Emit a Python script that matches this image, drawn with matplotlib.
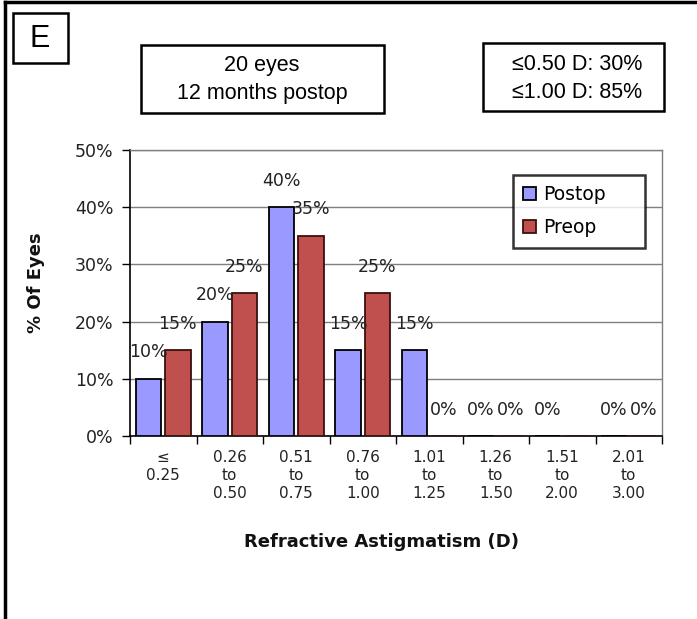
import numpy as np
import matplotlib
matplotlib.use("Agg")
import matplotlib.pyplot as plt
from matplotlib.patches import Rectangle
from matplotlib.lines import Line2D

# data
categories = ["\u2264\n0.25", "0.26\nto\n0.50", "0.51\nto\n0.75", "0.76\nto\n1.00",
              "1.01\nto\n1.25", "1.26\nto\n1.50", "1.51\nto\n2.00", "2.01\nto\n3.00"]
postop = [10, 20, 40, 15, 15, 0, 0, 0]
preop = [15, 25, 35, 25, 0, 0, 0, 0]
postop_labels = ["10%", "20%", "40%", "15%", "15%", "0%", "0%", "0%"]
preop_labels = ["15%", "25%", "35%", "25%", "0%", "0%", "", "0%"]
yticks = [0, 10, 20, 30, 40, 50]

W, H = 697, 619
fig = plt.figure(figsize=(W / 100, H / 100), dpi=100)
fig.patch.set_facecolor("white")

def fx(px):
    return px / W

def fy(py):
    return 1 - py / H

ax = fig.add_axes([fx(130), fy(436), fx(662) - fx(130), fy(150) - fy(436)])

x = np.arange(len(categories))
bw = 0.38
ax.bar(x - 0.22, postop, bw, color="#9999FF", edgecolor="black", linewidth=1.3,
       label="Postop", zorder=3)
ax.bar(x + 0.22, preop, bw, color="#C0504D", edgecolor="#3a0f0e", linewidth=1.3,
       label="Preop", zorder=3)

for xi, v, lab in zip(x, postop, postop_labels):
    ax.annotate(lab, (xi - 0.22, v), xytext=(0, 19), textcoords="offset points",
                ha="center", va="center", fontsize=12.5, color="#222222", zorder=4)
for xi, v, lab in zip(x, preop, preop_labels):
    ax.annotate(lab, (xi + 0.22, v), xytext=(0, 19), textcoords="offset points",
                ha="center", va="center", fontsize=12.5, color="#222222", zorder=4)

ax.set_xlim(-0.5, len(categories) - 0.5)
ax.set_ylim(0, 50)
ax.set_yticks(yticks)
ax.set_yticklabels([f"{t}%" for t in yticks], fontsize=12.5, color="#222222")
ax.tick_params(axis="y", direction="out", length=6, width=1, pad=6)
ax.yaxis.grid(True, color="#7f7f7f", linewidth=1, zorder=0)

# category boundaries get the tick marks, labels sit at the centres
ax.set_xticks(np.arange(len(categories) + 1) - 0.5)
ax.set_xticklabels([])
ax.tick_params(axis="x", which="major", direction="out", length=6, width=1)
ax.set_xticks(x, minor=True)
ax.set_xticklabels(categories, minor=True, fontsize=11, color="#222222",
                   linespacing=1.25)
ax.tick_params(axis="x", which="minor", length=0, pad=10)

for s in ["left", "bottom"]:
    ax.spines[s].set_color("black")
    ax.spines[s].set_linewidth(1.2)
for s in ["top", "right"]:
    ax.spines[s].set_color("#7f7f7f")
    ax.spines[s].set_linewidth(1)

fig.text(fx(382), fy(542), "Refractive Astigmatism (D)", fontsize=13,
         fontweight="bold", ha="center", va="center", color="#111111")
fig.text(fx(36), fy(283), "% Of Eyes", fontsize=13, fontweight="bold",
         rotation=90, ha="center", va="center", color="#111111")

leg = ax.legend(loc="upper left",
                bbox_to_anchor=(fx(513), fy(247), fx(645) - fx(513), fy(175) - fy(247)),
                bbox_transform=fig.transFigure, mode="expand", fontsize=13.5,
                frameon=True, fancybox=False, edgecolor="black", handlelength=0.7,
                handleheight=0.7, handletextpad=0.35, borderpad=0.55,
                labelspacing=0.75, borderaxespad=0)
leg.get_frame().set_linewidth(1.8)
leg.set_zorder(5)

# outer frame (top and left edges visible)
fig.add_artist(Line2D([fx(5), fx(5)], [0, fy(2)], color="black", linewidth=2.5))
fig.add_artist(Line2D([fx(5), 1], [fy(2), fy(2)], color="black", linewidth=2.5))

# annotation boxes
boxes = [(13, 13, 68, 63), (141, 45, 384, 113), (483, 43, 664, 111)]
for x0, y0, x1, y1 in boxes:
    fig.add_artist(Rectangle((fx(x0), fy(y1)), fx(x1) - fx(x0), fy(y0) - fy(y1),
                             transform=fig.transFigure, fill=False,
                             edgecolor="black", linewidth=1.8))

box_font = ["Liberation Sans", "DejaVu Sans"]
fig.text(fx(40), fy(39), "E", fontsize=22, family=box_font, ha="center", va="center")
fig.text(fx(262), fy(66), "20 eyes", fontsize=15.5, family=box_font, ha="center", va="center")
fig.text(fx(262), fy(94), "12 months postop", fontsize=15.5, family=box_font,
         ha="center", va="center")
fig.text(fx(577), fy(65), "\u22640.50 D: 30%", fontsize=15.5, family=box_font,
         ha="center", va="center")
fig.text(fx(577), fy(92), "\u22641.00 D: 85%", fontsize=15.5, family=box_font,
         ha="center", va="center")

fig.savefig("out.png", dpi=100)
